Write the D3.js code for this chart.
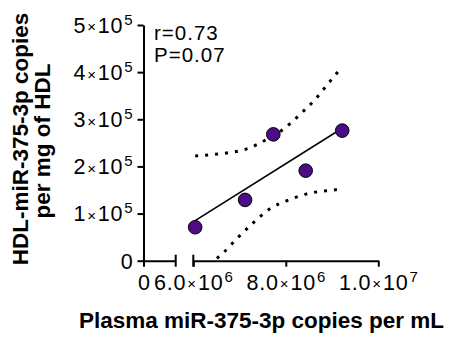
<!DOCTYPE html>
<html><head><meta charset="utf-8">
<script src="https://cdn.jsdelivr.net/npm/d3@7"></script>
<style>body{margin:0;background:#fff} svg{display:block}</style>
</head><body><svg id="c" width="451" height="337"></svg>
<script>
// ---- data ----
const xValues = [6.04e6, 7.12e6, 7.73e6, 8.43e6, 9.22e6];
const yValues = [0.71e5, 1.29e5, 2.68e5, 1.91e5, 2.76e5];
const fitX = [6.04e6, 9.22e6];
const fitY = [0.85e5, 2.81e5];
const upperX = [6.04e6, 6.38e6, 6.72e6, 7.17e6, 7.59e6, 7.96e6, 8.31e6, 8.63e6, 8.92e6, 9.21e6];
const upperY = [2.22e5, 2.25e5, 2.285e5, 2.376e5, 2.575e5, 2.80e5, 3.106e5, 3.415e5, 3.763e5, 4.103e5];
const lowerX = [6.51e6, 6.65e6, 6.97e6, 7.30e6, 7.64e6, 8.08e6, 8.51e6, 8.96e6, 9.17e6];
const lowerY = [0.05e5, 0.17e5, 0.496e5, 0.806e5, 1.09e5, 1.294e5, 1.43e5, 1.493e5, 1.515e5];
const yTicks = [0, 1e5, 2e5, 3e5, 4e5, 5e5];
const yTickLabels = ["0", "1×10^5", "2×10^5", "3×10^5", "4×10^5", "5×10^5"];
const xLowDomain = [0, 7e5];
const xLowTicks = [0];
const xLowTickLabels = ["0"];
const xHighDomain = [6e6, 1e7];
const xHighTicks = [6e6, 8e6, 1e7];
const xHighTickLabels = ["6.0×10^6", "8.0×10^6", "1.0×10^7"];
const statLines = ["r=0.73", "P=0.07"];
const xTitle = "Plasma miR-375-3p copies per mL";
const yTitleLines = ["HDL-miR-375-3p copies", "per mg of HDL"];

// ---- layout ----
const FONT = "'Liberation Sans', Arial, sans-serif";
const TF = 21.5, SUP = 15, LS = 0.8;
const axX = 143.5, axY = 260.7, topY = 25;
const svg = d3.select("#c");
const y = d3.scaleLinear().domain([0, 5e5]).range([axY, topY]);
const xLow = d3.scaleLinear().domain(xLowDomain).range([axX, 175.7]);
const xHigh = d3.scaleLinear().domain(xHighDomain).range([193.3, 378.3]);

function sciLabel(t, str) {
  t.text(null);
  if (str.indexOf("×") < 0) { t.append("tspan").text(str); return; }
  const [m, rest] = str.split("×");
  const [b, e] = rest.split("^");
  t.append("tspan").text(m);
  t.append("tspan").attr("font-size", 15).attr("dx", 1).attr("dy", -0.5).text("×");
  t.append("tspan").attr("dx", 1).attr("dy", 0.5).text(b);
  t.append("tspan").attr("font-size", SUP).attr("dx", 1).attr("dy", -8).text(e);
}

function styleAxis(g) {
  g.selectAll("path,line").attr("stroke", "#000").attr("stroke-width", 2);
  g.selectAll("text").attr("fill", "#000").attr("font-family", FONT).attr("font-size", TF)
    .attr("letter-spacing", LS);
}

// y axis
const gy = svg.append("g").attr("transform", `translate(${axX},0)`)
  .call(d3.axisLeft(y).tickValues(yTicks).tickSize(6).tickSizeOuter(0).tickPadding(4));
styleAxis(gy);
gy.selectAll(".tick text").attr("dy", null).attr("y", 7.4)
  .each(function(d, i) { sciLabel(d3.select(this), yTickLabels[i]); });

// x axis low segment
const gxl = svg.append("g").attr("transform", `translate(0,${axY})`)
  .call(d3.axisBottom(xLow).tickValues(xLowTicks).tickSize(6).tickSizeOuter(0).tickPadding(8));
styleAxis(gxl);
gxl.selectAll(".tick text").attr("dy", null).attr("y", 29).attr("letter-spacing", 0)
  .each(function(d, i) { sciLabel(d3.select(this), xLowTickLabels[i]); });

// x axis high segment
const gxh = svg.append("g").attr("transform", `translate(0,${axY})`)
  .call(d3.axisBottom(xHigh).tickValues(xHighTicks).tickSize(6).tickSizeOuter(0).tickPadding(8));
styleAxis(gxh);
gxh.selectAll(".tick text").attr("dy", null).attr("y", 29)
  .each(function(d, i) { sciLabel(d3.select(this), xHighTickLabels[i]); });

// break marks
[xLow(xLowDomain[1]), xHigh(xHighDomain[0])].forEach(px => {
  svg.append("line").attr("x1", px).attr("x2", px).attr("y1", axY - 6).attr("y2", axY + 6)
    .attr("stroke", "#000").attr("stroke-width", 2);
});

// confidence bands
const line = d3.line().x(d => xHigh(d[0])).y(d => y(d[1])).curve(d3.curveMonotoneX);
[[upperX, upperY], [lowerX, lowerY]].forEach(([xs, ys]) => {
  svg.append("path").attr("d", line(xs.map((v, i) => [v, ys[i]])))
    .attr("fill", "none").attr("stroke", "#000").attr("stroke-width", 3)
    .attr("stroke-dasharray", "3,7");
});

// fit line
svg.append("path").attr("d", d3.line().x(d => xHigh(d[0])).y(d => y(d[1]))(fitX.map((v, i) => [v, fitY[i]])))
  .attr("fill", "none").attr("stroke", "#000").attr("stroke-width", 1.6);

// points
svg.append("g").selectAll("circle").data(xValues.map((v, i) => [v, yValues[i]])).join("circle")
  .attr("cx", d => xHigh(d[0])).attr("cy", d => y(d[1])).attr("r", 6.8)
  .attr("fill", "#4B0C86").attr("stroke", "#000").attr("stroke-width", 1);

// stats
statLines.forEach((s, i) => {
  svg.append("text").attr("x", 154).attr("y", 40 + i * 21.7).attr("font-family", FONT)
    .attr("font-size", 20.5).attr("letter-spacing", 1).attr("fill", "#000").text(s);
});

// titles
svg.append("text").attr("x", 261.5).attr("y", 328.3).attr("text-anchor", "middle")
  .attr("font-family", FONT).attr("font-size", 22.5).attr("font-weight", "bold").text(xTitle);
yTitleLines.forEach((s, i) => {
  svg.append("text").attr("transform", `translate(${28.3 + i * 21.7},${139 + i * 2}) rotate(-90)`)
    .attr("text-anchor", "middle").attr("font-family", FONT).attr("font-size", 22.5)
    .attr("font-weight", "bold").text(s);
});
</script></body></html>
